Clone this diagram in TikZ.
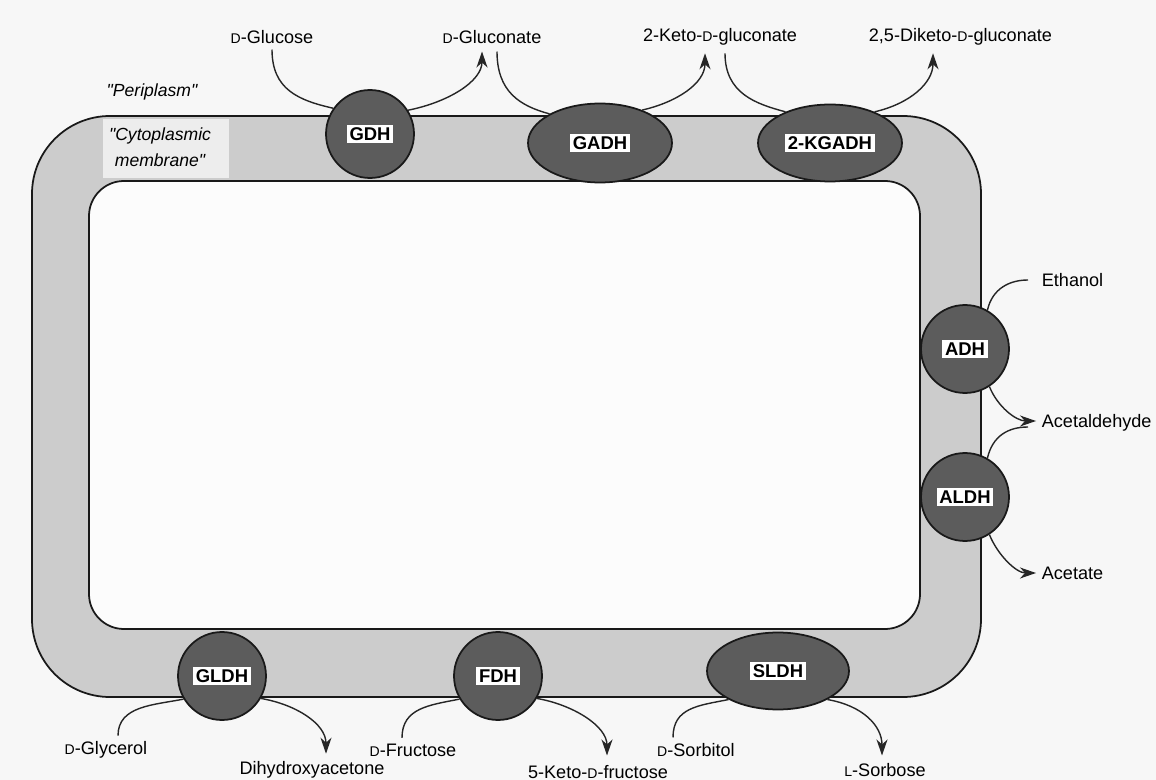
\documentclass[tikz,border=0pt]{standalone}
\usepackage{fontspec}
\setmainfont{Liberation Sans}
\usetikzlibrary{arrows.meta,positioning,shapes.geometric,calc}

\newcommand{\sD}{{\fontsize{8}{9}\selectfont D}}
\newcommand{\sL}{{\fontsize{8}{9}\selectfont L}}

\tikzset{
  memb/.style={draw=black!90,line width=1pt,fill=black!20},
  enz/.style={draw=black!90,line width=1pt,fill=black!64,inner sep=0pt},
  lbl/.style={fill=white,inner sep=1.6pt,font=\fontsize{10.5}{12}\selectfont\bfseries},
  chem/.style={inner sep=2pt,font=\fontsize{10.3}{12}\selectfont},
  flow/.style={line width=0.8pt,black!85},
  conv/.style={flow,-{Stealth[length=3.2mm,width=2.2mm,inset=1mm]}},
}

\begin{document}
\begin{tikzpicture}[x=0.02cm,y=-0.02cm]
  \fill[black!3] (0,0) rectangle (1156,780);
  \useasboundingbox (0,0) rectangle (1156,780);

  % membrane
  \draw[memb,rounded corners=1.56cm] (32,116) rectangle (981,697);
  \draw[draw=black!90,line width=1pt,fill=black!1,rounded corners=0.7cm] (89,181) rectangle (920,629);
  \fill[black!7] (103,119) rectangle (229,178);
  \node[chem,font=\fontsize{10}{15}\selectfont\itshape,align=center] (cytm) at (160,147) {\textquotedbl Cytoplasmic\\membrane\textquotedbl};
  \node[chem,font=\fontsize{10}{12}\selectfont\itshape] (peri) at (152,92) {\textquotedbl Periplasm\textquotedbl};

  % enzymes
  \node[enz,circle,minimum size=1.76cm,label={[lbl]center:GDH}] (gdh) at (370,134) {};
  \node[enz,ellipse,minimum width=2.88cm,minimum height=1.58cm,label={[lbl]center:GADH}] (gadh) at (600,143) {};
  \node[enz,ellipse,minimum width=2.88cm,minimum height=1.54cm,label={[lbl]center:2-KGADH}] (kgadh) at (830,143) {};
  \node[enz,circle,minimum size=1.76cm,label={[lbl]center:ADH}] (adh) at (965,349) {};
  \node[enz,circle,minimum size=1.76cm,label={[lbl]center:ALDH}] (aldh) at (965,497) {};
  \node[enz,circle,minimum size=1.76cm,label={[lbl]center:GLDH}] (gldh) at (222,676) {};
  \node[enz,circle,minimum size=1.76cm,label={[lbl]center:FDH}] (fdh) at (498,676) {};
  \node[enz,ellipse,minimum width=2.84cm,minimum height=1.54cm,label={[lbl]center:SLDH}] (sldh) at (778,671) {};

  % substrates and products
  \node[chem] (glc) at (272,37) {\sD-Glucose};
  \node[chem] (glcn) at (492,37) {\sD-Gluconate};
  \node[chem] (kglcn) at (720,37) {2-Keto-\sD-gluconate};
  \node[chem,anchor=west] (dkglcn) at (865,37) {2,5-Diketo-\sD-gluconate};
  \node[chem,anchor=west] (eth) at (1038,280) {Ethanol};
  \node[chem,anchor=west] (acald) at (1038,423) {Acetaldehyde};
  \node[chem,anchor=west] (acet) at (1038,573) {Acetate};
  \node[chem] (glyc) at (106,750) {\sD-Glycerol};
  \node[chem] (dha) at (312,770) {Dihydroxyacetone};
  \node[chem] (fru) at (413,750) {\sD-Fructose};
  \node[chem] (kfru) at (598,772) {5-Keto-\sD-fructose};
  \node[chem] (sorb) at (696,750) {\sD-Sorbitol};
  \node[chem] (sorbose) at (885,770) {\sL-Sorbose};

  % top
  \draw[flow] ($(glc.south)+(0,2)$) .. controls +(0,40) and +(-35,-8) .. (gdh.145);
  \draw[conv] (gdh.32) .. controls +(40,-8) and +(0,30) .. ($(glcn.south)+(-10,4)$);
  \draw[flow] ($(glcn.south)+(5,4)$) .. controls +(0,40) and +(-30,-8) .. (gadh.150);
  \draw[conv] (gadh.38) .. controls +(35,-8) and +(0,30) .. ($(kglcn.south)+(-15,4)$);
  \draw[flow] ($(kglcn.south)+(5,4)$) .. controls +(0,40) and +(-30,-8) .. (kgadh.145);
  \draw[conv] (kgadh.35) .. controls +(35,-8) and +(0,30) .. ($(dkglcn.south west)+(68,4)$);

  % right
  \draw[flow] (adh.60) .. controls +(5,-22) and +(-18,0) .. ($(eth.west)+(-10,0)$);
  \draw[conv] (adh.-57) .. controls +(8,20) and +(-20,0) .. ($(acald.west)+(-2,-2)$);
  \draw[flow] ($(acald.west)+(-10,4)$) .. controls +(-20,0) and +(5,-22) .. (aldh.60);
  \draw[conv] (aldh.-57) .. controls +(8,20) and +(-20,0) .. ($(acet.west)+(-2,0)$);

  % bottom
  \draw[flow] ($(glyc.north)+(12,-2)$) .. controls +(0,-30) and +(-30,6) .. (gldh.211);
  \draw[conv] (gldh.-30) .. controls +(35,6) and +(0,-30) .. ($(dha.north)+(14,-4)$);
  \draw[flow] ($(fru.north)+(-11,-2)$) .. controls +(0,-30) and +(-30,6) .. (fdh.211);
  \draw[conv] (fdh.-30) .. controls +(35,6) and +(0,-30) .. ($(kfru.north)+(9,-6)$);
  \draw[flow] ($(sorb.north)+(-23,-2)$) .. controls +(0,-30) and +(-30,6) .. (sldh.210);
  \draw[conv] (sldh.-30) .. controls +(35,6) and +(0,-30) .. ($(sorbose.north)+(-3,-4)$);
\end{tikzpicture}
\end{document}
